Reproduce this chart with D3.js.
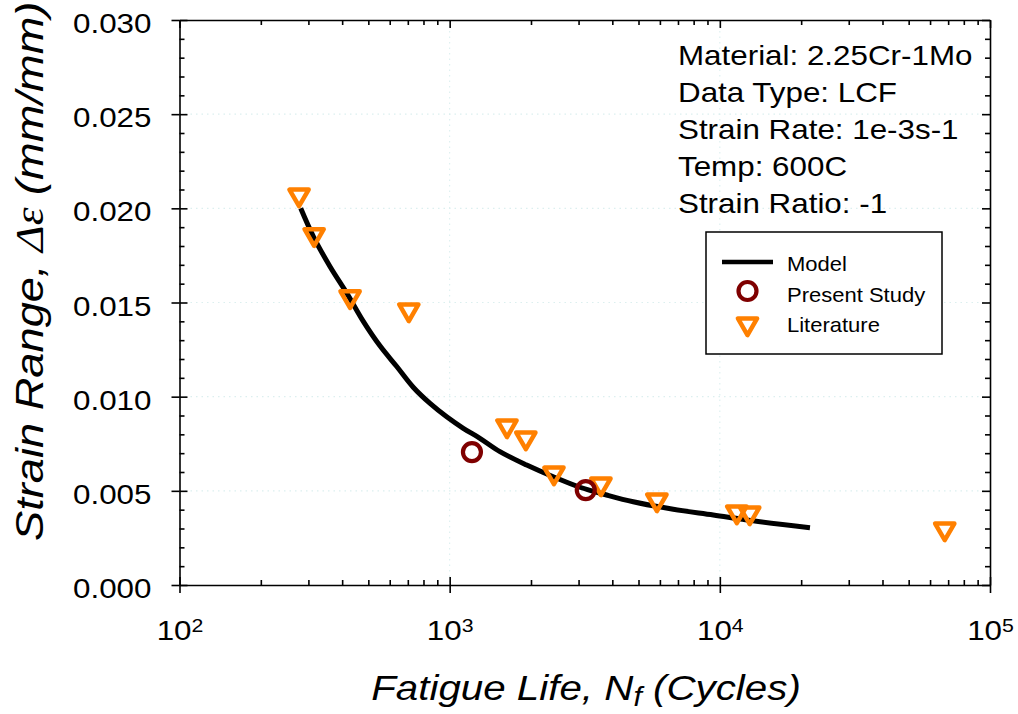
<!DOCTYPE html>
<html>
<head>
<meta charset="utf-8">
<script src="https://cdn.jsdelivr.net/npm/d3@7"></script>
<style>
  html, body { margin: 0; padding: 0; background: #fff; }
  svg { display: block; }
  text { font-family: "Liberation Sans", Arial, Helvetica, sans-serif; fill: #000; }
</style>
</head>
<body>
<svg id="chart" width="1018" height="714"></svg>
<script>
// ---------------- data ----------------
const modelN      = [281, 313, 361, 416, 479, 552, 637, 733, 846, 975, 1123, 1294, 1535, 1928, 2417, 3035, 3811, 4780, 6722, 9454, 13290, 21560];
const modelStrain = [0.0200, 0.0185, 0.0169, 0.0155, 0.0140, 0.0127, 0.0116, 0.0105, 0.00964, 0.00893, 0.00832, 0.00779, 0.00708, 0.00637, 0.00575, 0.00519, 0.00478, 0.00442, 0.00402, 0.00372, 0.00341, 0.00304];

const presentN      = [1209, 3190];
const presentStrain = [0.00706, 0.00504];

const litN      = [277, 315, 428, 706, 1630, 1914, 2432, 3630, 5850, 11560, 12900, 68000];
const litStrain = [0.0207, 0.0186, 0.0153, 0.0146, 0.00844, 0.00780, 0.00594, 0.00536, 0.00451, 0.00387, 0.00382, 0.00297];

const xMajorTicks = [1e2, 1e3, 1e4, 1e5];
const xTickExponents = ["2", "3", "4", "5"];
const yMajorTicks = [0, 0.005, 0.010, 0.015, 0.020, 0.025, 0.030];
const yMinorTicks = [0.001,0.002,0.003,0.004,0.006,0.007,0.008,0.009,0.011,0.012,0.013,0.014,0.016,0.017,0.018,0.019,0.021,0.022,0.023,0.024,0.026,0.027,0.028,0.029];

const infoLines = ["Material: 2.25Cr-1Mo", "Data Type: LCF", "Strain Rate: 1e-3s-1", "Temp: 600C", "Strain Ratio: -1"];
const legendLabels = ["Model", "Present Study", "Literature"];

// ---------------- layout ----------------
const SX = 1.12; // horizontal glyph stretch of the reference font
const L = 179.5, R = 990, T = 20, B = 585;
const orange = "#ff8000", darkRed = "#7f0000";

const svg = d3.select("#chart");
const x = d3.scaleLog().domain([1e2, 1e5]).range([L, R]);
const y = d3.scaleLinear().domain([0, 0.030]).range([B, T]);

const xMinorTicks = [];
for (let e = 2; e < 5; e++) for (let m = 2; m <= 9; m++) xMinorTicks.push(m * Math.pow(10, e));

// gridlines (faint dotted)
const grid = svg.append("g").attr("stroke", "#dcefef").attr("stroke-width", 1.1).attr("stroke-dasharray", "1.5,4");
grid.selectAll("line.gy").data(yMajorTicks.filter(d => d > 0 && d < 0.030)).enter().append("line")
  .attr("x1", L).attr("x2", R).attr("y1", d => y(d)).attr("y2", d => y(d));
grid.selectAll("line.gx").data(xMajorTicks.filter(d => d > 1e2 && d < 1e5)).enter().append("line")
  .attr("y1", T).attr("y2", B).attr("x1", d => x(d)).attr("x2", d => x(d));

// ---------------- axes ----------------
function styleAxis(g) {
  g.selectAll("path").attr("stroke", "#000").attr("stroke-width", 1.6);
  g.selectAll("line").attr("stroke", "#000").attr("stroke-width", 1.6);
}
// left axis
const gLeft = svg.append("g").attr("transform", `translate(${L},0)`)
  .call(d3.axisLeft(y).tickValues(yMajorTicks).tickSizeInner(8).tickSizeOuter(0).tickFormat(d3.format(".3f")));
gLeft.selectAll("text").attr("x", null).attr("dy", null)
  .attr("font-size", 28).attr("text-anchor", "end")
  .attr("transform", `translate(-28,12.5) scale(${SX},1)`);
gLeft.call(styleAxis);
svg.append("g").attr("transform", `translate(${L},0)`)
  .call(d3.axisRight(y).tickValues(yMajorTicks).tickSize(8).tickFormat("")).call(styleAxis).select("path").remove();
svg.append("g").attr("transform", `translate(${L},0)`)
  .call(d3.axisRight(y).tickValues(yMinorTicks).tickSize(5).tickFormat("")).call(styleAxis).select("path").remove();
// right axis
svg.append("g").attr("transform", `translate(${R},0)`)
  .call(d3.axisLeft(y).tickValues(yMajorTicks).tickSizeInner(8).tickSizeOuter(0).tickFormat("")).call(styleAxis);
svg.append("g").attr("transform", `translate(${R},0)`)
  .call(d3.axisLeft(y).tickValues(yMinorTicks).tickSize(5).tickFormat("")).call(styleAxis).select("path").remove();
// bottom axis
const gBottom = svg.append("g").attr("transform", `translate(0,${B})`)
  .call(d3.axisBottom(x).tickValues(xMajorTicks).tickSizeInner(8).tickSizeOuter(0).tickFormat(() => ""));
gBottom.call(styleAxis);
gBottom.selectAll("text").remove();
gBottom.selectAll(".tick").each(function(d, i) {
  const t = d3.select(this).append("text")
    .attr("text-anchor", "middle")
    .attr("transform", `translate(0,54.5) scale(${SX},1)`)
    .attr("font-size", 28);
  t.append("tspan").text("10");
  t.append("tspan").attr("font-size", 19).attr("dy", -8).text(xTickExponents[i]);
});
svg.append("g").attr("transform", `translate(0,${B})`)
  .call(d3.axisTop(x).tickValues(xMajorTicks).tickSize(8).tickFormat("")).call(styleAxis).select("path").remove();
svg.append("g").attr("transform", `translate(0,${B})`)
  .call(d3.axisTop(x).tickValues(xMinorTicks).tickSize(5).tickFormat("")).call(styleAxis).select("path").remove();
// top axis
svg.append("g").attr("transform", `translate(0,${T})`)
  .call(d3.axisBottom(x).tickValues(xMajorTicks).tickSizeInner(8).tickSizeOuter(0).tickFormat("")).call(styleAxis);
svg.append("g").attr("transform", `translate(0,${T})`)
  .call(d3.axisBottom(x).tickValues(xMinorTicks).tickSize(5).tickFormat("")).call(styleAxis).select("path").remove();

// ---------------- axis titles ----------------
const xt = svg.append("text")
  .attr("text-anchor", "middle")
  .attr("transform", `translate(586,700) scale(${SX},1)`)
  .attr("font-size", 36).attr("font-style", "italic");
xt.append("tspan").text("Fatigue Life, N");
xt.append("tspan").attr("font-size", 27).attr("dy", 6).text("f");
xt.append("tspan").attr("dy", -6).text(" (Cycles)");

const yt = svg.append("text")
  .attr("text-anchor", "start")
  .attr("transform", `translate(43,541) rotate(-90) scale(1.16,1)`)
  .attr("font-size", 39).attr("font-style", "italic");
yt.append("tspan").text("Strain Range, ");
yt.append("tspan").attr("font-family", "'Liberation Serif', 'Times New Roman', serif").text("\u0394\u03b5");
yt.append("tspan").text(" (mm/mm)");

// ---------------- model line ----------------
const modelData = modelN.map((n, i) => ({ n, s: modelStrain[i] }));
svg.append("path").datum(modelData)
  .attr("fill", "none").attr("stroke", "#000").attr("stroke-width", 5)
  .attr("d", d3.line().x(d => x(d.n)).y(d => y(d.s)).curve(d3.curveCatmullRom));

// ---------------- markers ----------------
const tri = d3.symbol().type(d3.symbolTriangle).size(160);
const litData = litN.map((n, i) => ({ n, s: litStrain[i] }));
svg.append("g").selectAll("path").data(litData).enter().append("path")
  .attr("d", tri)
  .attr("transform", d => `translate(${x(d.n)},${y(d.s)}) rotate(180)`)
  .attr("fill", "none").attr("stroke", orange).attr("stroke-width", 4.5).attr("stroke-linejoin", "round");

const presData = presentN.map((n, i) => ({ n, s: presentStrain[i] }));
svg.append("g").selectAll("circle").data(presData).enter().append("circle")
  .attr("cx", d => x(d.n)).attr("cy", d => y(d.s)).attr("r", 9)
  .attr("fill", "none").attr("stroke", darkRed).attr("stroke-width", 4.2);

// ---------------- info text ----------------
const infoBaselines = [65, 102, 139, 176, 213];
svg.append("g").selectAll("text").data(infoLines).enter().append("text")
  .attr("transform", (d, i) => `translate(678,${infoBaselines[i]}) scale(${SX},1)`)
  .attr("font-size", 28).text(d => d);

// ---------------- legend ----------------
const lg = svg.append("g");
lg.append("rect").attr("x", 706).attr("y", 232).attr("width", 236).attr("height", 122)
  .attr("fill", "#fff").attr("stroke", "#000").attr("stroke-width", 1.5);
lg.append("line").attr("x1", 722).attr("x2", 773).attr("y1", 262).attr("y2", 262)
  .attr("stroke", "#000").attr("stroke-width", 4.5);
lg.append("circle").attr("cx", 747.5).attr("cy", 291).attr("r", 9)
  .attr("fill", "none").attr("stroke", darkRed).attr("stroke-width", 4.2);
lg.append("path").attr("d", tri).attr("transform", "translate(747.5,324) rotate(180)")
  .attr("fill", "none").attr("stroke", orange).attr("stroke-width", 4.5).attr("stroke-linejoin", "round");
const legBase = [271, 301.5, 331.5];
lg.selectAll("text").data(legendLabels).enter().append("text")
  .attr("transform", (d, i) => `translate(787,${legBase[i]}) scale(1.1,1)`)
  .attr("font-size", 20).text(d => d);
</script>
</body>
</html>
